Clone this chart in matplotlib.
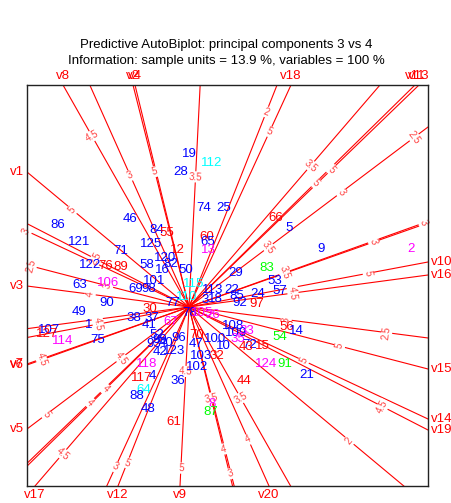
import numpy as np
import matplotlib
matplotlib.use("Agg")
from matplotlib import pyplot as plt

plt.rcParams['font.family'] = ['Liberation Sans', 'DejaVu Sans']

# sample unit scores on PC3 / PC4 (group 1 blue, 2 red, 3 magenta, 4 cyan, 5 green)
labels = ["19", "112", "28", "74", "25", "66", "5", "9", "2", "86",
          "121", "46", "84", "55", "60", "65", "13", "71", "125", "12",
          "122", "76", "89", "120", "82", "58", "16", "50", "29", "83",
          "53", "57", "63", "106", "101", "69", "98", "90", "49", "38",
          "30", "77", "115", "110", "113", "22", "3", "18", "92", "97",
          "85", "24", "78", "105", "26", "37", "41", "67", "107", "127",
          "1", "114", "75", "108", "109", "33", "35", "72", "43", "15",
          "56", "14", "54", "124", "91", "21", "100", "10", "70", "96",
          "47", "52", "99", "40", "93", "123", "42", "103", "32", "102",
          "118", "4", "117", "64", "88", "48", "36", "44", "8", "87", "61"]
pc3 = [0.00, 0.23, -0.08, 0.15, 0.35, 0.87, 1.00, 1.32, 2.22, -1.31,
       -1.10, -0.59, -0.32, -0.22, 0.18, 0.19, 0.19, -0.68, -0.38, -0.12,
       -0.99, -0.83, -0.68, -0.24, -0.18, -0.42, -0.27, -0.03, 0.47, 0.78,
       0.86, 0.91, -1.09, -0.81, -0.35, -0.53, -0.40, -0.82, -1.10, -0.55,
       -0.39, -0.16, 0.05, -0.02, 0.24, 0.43, 0.16, 0.26, 0.51, 0.68,
       0.48, 0.69, 0.01, 0.13, 0.24, -0.37, -0.40, -0.18, -1.40, -1.42,
       -1.00, -1.26, -0.91, 0.44, 0.47, 0.58, 0.49, 0.61, 0.57, 0.73,
       0.98, 1.07, 0.91, 0.77, 0.96, 1.18, 0.26, 0.34, 0.08, -0.10,
       0.07, -0.32, -0.29, -0.23, -0.35, -0.15, -0.29, 0.12, 0.28, 0.08,
       -0.42, -0.37, -0.47, -0.45, -0.52, -0.41, -0.11, 0.55, 0.23, 0.22, -0.15]
pc4 = [1.53, 1.44, 1.35, 0.99, 0.99, 0.89, 0.79, 0.58, 0.58, 0.82,
       0.65, 0.88, 0.77, 0.74, 0.70, 0.65, 0.57, 0.56, 0.63, 0.57,
       0.42, 0.41, 0.40, 0.49, 0.43, 0.42, 0.37, 0.37, 0.34, 0.39,
       0.26, 0.16, 0.22, 0.24, 0.26, 0.18, 0.18, 0.04, -0.05, -0.11,
       -0.02, 0.04, 0.23, 0.10, 0.17, 0.17, 0.07, 0.08, 0.04, 0.03,
       0.11, 0.13, -0.06, -0.06, -0.08, -0.11, -0.18, -0.15, -0.23, -0.27,
       -0.18, -0.34, -0.33, -0.19, -0.26, -0.24, -0.32, -0.38, -0.40, -0.39,
       -0.20, -0.24, -0.30, -0.57, -0.57, -0.68, -0.32, -0.39, -0.28, -0.31,
       -0.37, -0.28, -0.33, -0.36, -0.37, -0.44, -0.45, -0.49, -0.49, -0.60,
       -0.57, -0.69, -0.71, -0.83, -0.89, -1.02, -0.74, -0.74, -0.97, -1.05, -1.15]
group = [1, 4, 1, 1, 1, 2, 1, 1, 3, 1,
         1, 1, 1, 2, 2, 1, 3, 1, 1, 2,
         1, 2, 2, 1, 1, 1, 1, 1, 1, 5,
         1, 1, 1, 3, 1, 1, 1, 1, 1, 1,
         2, 1, 4, 4, 1, 1, 1, 1, 1, 2,
         1, 1, 1, 3, 3, 1, 1, 3, 1, 2,
         1, 3, 1, 1, 1, 3, 3, 1, 2, 2,
         2, 1, 5, 3, 5, 1, 1, 1, 2, 1,
         1, 1, 1, 1, 1, 1, 1, 1, 2, 1,
         3, 1, 2, 4, 1, 1, 1, 2, 3, 5, 2]

# variable axis directions
var_names = ["v1", "v2", "v3", "v4", "v5", "v6", "v7", "v8", "v9", "v10",
             "v11", "v12", "v13", "v14", "v15", "v16", "v17", "v18", "v19", "v20"]
var_x = [-1.62, -0.56, -1.62, -0.54, -1.62, -1.62, -1.62, -1.26, -0.09, 2.39,
         2.26, -0.71, 2.30, 2.39, 2.39, 2.39, -1.54, 1.02, 2.39, 0.80]
var_y = [1.35, 2.22, 0.21, 2.22, -1.22, -0.58, -0.57, 2.22, -1.79, 0.45,
         2.22, -1.79, 2.22, -1.12, -0.62, 0.32, -1.79, 2.22, -1.23, -1.79]

# calibration markers on the axes
mark_var = ["v8", "v20", "v2", "v9", "v1", "v12", "v18", "v17", "v11", "v13",
            "v5", "v5", "v5", "v6", "v7", "v6", "v10", "v16", "v3", "v3",
            "v15", "v14", "v19", "v1", "v8", "v20", "v2", "v4", "v4", "v6",
            "v5", "v11", "v13", "v5", "v17", "v18", "v12", "v9", "v9", "v15",
            "v15", "v14", "v19", "v10", "v3"]
mark_val = [4.5, 3, 5, 3.5, 5, 2, 5, 3.5, 5, 5,
            2.5, 3, 3.5, 3, 3, 3.5, 5, 4.5, 3, 2.5,
            5, 5, 4.5, 2, 3.5, 4, 3, 4, 3.5, 4.5,
            4.5, 4, 4, 5, 4.5, 3, 5, 5, 4.5, 2.5,
            3, 3, 2.5, 4.5, 4]
mark_pos = [0.77, -0.735, 0.61, -0.727, 0.72, -1.09, 0.79, -0.79, 0.56, 0.62,
            -1.39, -0.94, -0.49, -1.45, -1.14, -0.59, 0.75, 0.435, -0.6, -1.22,
            0.63, 0.48, 0.81, -0.99, -0.41, 0.74, -0.75, -0.64, -0.41, 0.91,
            0.42, -0.37, -0.43, 0.88, 0.82, -0.72, 0.87, 0.9, 0.36, -0.66,
            -0.34, -0.68, -0.39, -0.38, 0.61]

colours = {1: "#0000ff", 2: "#ff0000", 3: "#ff00ff", 4: "#00ffff", 5: "#00ff00"}

fig = plt.figure(figsize=(4.52, 5.03), dpi=100)
ax = fig.add_axes([27 / 452, 17 / 503, 401 / 452, 401 / 503])
xmin, xmax, ymin, ymax = -1.62, 2.39, -1.79, 2.22
ax.set_xlim(xmin, xmax)
ax.set_ylim(ymin, ymax)
ax.set_xticks([])
ax.set_yticks([])
for s in ax.spines.values():
    s.set_color("#222222")
    s.set_linewidth(1.0)

fig.text(0.5, 1 - 45 / 503, "Predictive AutoBiplot: principal components 3 vs 4",
         ha="center", va="center", fontsize=9.5)
fig.text(0.5, 1 - 61 / 503, "Information: sample units = 13.9 %, variables = 100 %",
         ha="center", va="center", fontsize=9.5)

direction = {}
for name, dx, dy in zip(var_names, var_x, var_y):
    direction[name] = (dx, dy)
    ax.plot([-5 * dx, 5 * dx], [-5 * dy, 5 * dy], color="#ff0000", lw=0.8, zorder=1)
    tx = xmax / dx if dx > 0 else xmin / dx
    ty = ymax / dy if dy > 0 else ymin / dy
    t = min(tx, ty)
    ex, ey = t * dx, t * dy
    kw = dict(color="#ff0000", fontsize=9.5, clip_on=False)
    if tx < ty:
        if dx > 0:
            ax.text(ex + 0.03, ey, name, ha="left", va="center", **kw)
        else:
            ax.text(ex - 0.03, ey, name, ha="right", va="center", **kw)
    else:
        if dy > 0:
            ax.text(ex, ey + 0.03, name, ha="center", va="bottom", **kw)
        else:
            ax.text(ex, ey - 0.03, name, ha="center", va="top", **kw)

for name, val, pos in zip(mark_var, mark_val, mark_pos):
    dx, dy = direction[name]
    ang = np.degrees(np.arctan2(dy, dx)) % 180 - 90
    ax.text(pos * dx, pos * dy, f"{val:g}", color="#ff4040", fontsize=7,
            ha="center", va="center", rotation=ang, rotation_mode="anchor", zorder=2,
            bbox=dict(facecolor="white", edgecolor="none", pad=0.4))

for lab, x, y, g in zip(labels, pc3, pc4, group):
    ax.text(x, y, lab, color=colours[g], fontsize=9.5, ha="center", va="center", zorder=3)

fig.savefig("out.png", dpi=100)
